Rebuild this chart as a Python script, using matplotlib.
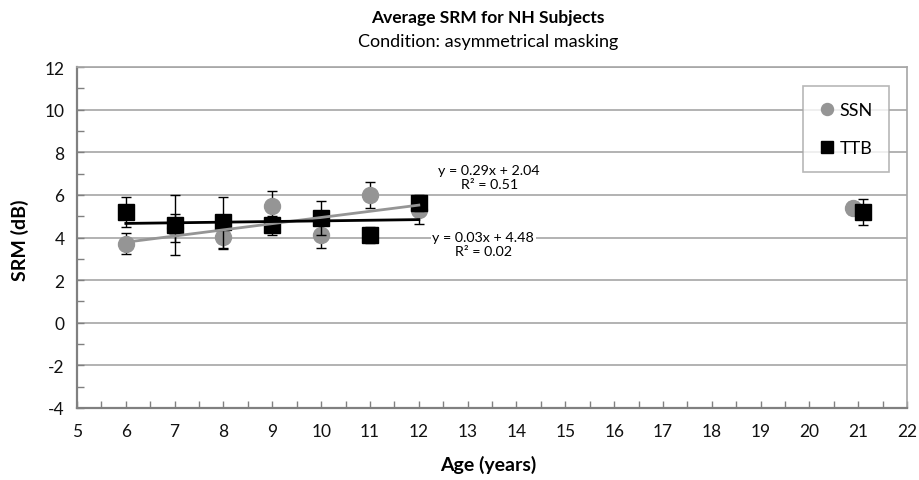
import numpy as np
import matplotlib.pyplot as plt
from matplotlib.ticker import MultipleLocator

plt.rcParams['font.family'] = ['Lato', 'DejaVu Sans']
plt.rcParams['axes.unicode_minus'] = False

# Mean SRM per age group (dB) with error bars
ssn_age = [6, 7, 8, 9, 10, 11, 12, 20.9]
ssn_srm = [3.71, 4.44, 4.02, 5.50, 4.13, 6.00, 5.27, 5.38]
ssn_err = [0.50, 0.65, 0.55, 0.70, 0.60, 0.60, 0.62, 0.30]

ttb_age = [6, 7, 8, 9, 10, 11, 12, 21.1]
ttb_srm = [5.20, 4.58, 4.72, 4.57, 4.90, 4.13, 5.63, 5.20]
ttb_err = [0.70, 1.40, 1.20, 0.45, 0.80, 0.37, 0.37, 0.60]

# Linear trendlines over the children (6-12 yrs)
fit_range = [6, 12]
ssn_fit = (0.29, 2.04, 0.51)   # slope, intercept, R^2
ttb_fit = (0.03, 4.48, 0.02)

fig = plt.figure(figsize=(9.2, 4.81), dpi=100)
ax = fig.add_axes([0.0837, 0.1497, 0.9023, 0.7089])

grid_c = '#a6a6a6'
ax.set_xlim(5, 22)
ax.set_ylim(-4, 12)
ax.yaxis.set_major_locator(MultipleLocator(2))
ax.yaxis.set_minor_locator(MultipleLocator(1))
ax.xaxis.set_major_locator(MultipleLocator(1))
ax.xaxis.set_minor_locator(MultipleLocator(0.5))
ax.grid(axis='y', which='major', color=grid_c, lw=1.2)
ax.set_axisbelow(True)
ax.tick_params(which='both', direction='in', color='#808080', labelsize=12.5,
               labelcolor='#111111')
ax.tick_params(which='major', length=5, width=1)
ax.tick_params(which='minor', length=5, width=1)
ax.tick_params(axis='x', pad=11)
ax.tick_params(axis='y', pad=9)
for s in ax.spines.values():
    s.set_color('#a6a6a6')
    s.set_linewidth(1.2)
ax.spines['left'].set_color('#808080')
ax.spines['bottom'].set_color('#808080')
ax.spines['left'].set_linewidth(1.6)
ax.spines['bottom'].set_linewidth(1.6)

ax.errorbar(ssn_age, ssn_srm, yerr=ssn_err, fmt='none', ecolor='black',
            elinewidth=1, capsize=3.5, capthick=1, zorder=3)
ax.plot(ssn_age, ssn_srm, 'o', color='#959595', ms=11.5, mec='#959595',
        zorder=4, label='SSN')
ax.errorbar(ttb_age, ttb_srm, yerr=ttb_err, fmt='none', ecolor='black',
            elinewidth=1, capsize=3.5, capthick=1, zorder=5)
ax.plot(ttb_age, ttb_srm, 's', color='black', ms=11, zorder=6, label='TTB')

xs = np.array(fit_range)
ax.plot(xs, ssn_fit[0] * xs + ssn_fit[1], color='#959595', lw=2, zorder=7)
ax.plot(xs, ttb_fit[0] * xs + ttb_fit[1], color='black', lw=2, zorder=7)

box = dict(facecolor='white', edgecolor='none', pad=1)
ax.text(13.44, 6.85, f"y = {ssn_fit[0]:.2f}x + {ssn_fit[1]:.2f}\nR² = {ssn_fit[2]:.2f}",
        ha='center', va='center', fontsize=10.3, linespacing=1.2, bbox=box, zorder=8)
ax.text(13.32, 3.70, f"y = {ttb_fit[0]:.2f}x + {ttb_fit[1]:.2f}\nR² = {ttb_fit[2]:.2f}",
        ha='center', va='center', fontsize=10.3, linespacing=1.2, bbox=box, zorder=8)

leg = ax.legend(loc='upper right', bbox_to_anchor=(0.9889, 0.971), fontsize=13,
                frameon=True, fancybox=False, edgecolor='#a6a6a6', handlelength=0.8,
                handletextpad=0.3, labelspacing=1.2, borderpad=0.9, markerscale=0.75)
leg.get_frame().set_linewidth(1.2)

fig.text(0.5305, 0.962, 'Average SRM for NH Subjects', ha='center', va='center',
         fontsize=12.5, fontweight='bold')
fig.text(0.5305, 0.913, 'Condition: asymmetrical masking', ha='center', va='center',
         fontsize=13)
fig.text(0.5305, 0.033, 'Age (years)', ha='center', va='center', fontsize=14,
         fontweight='bold')
fig.text(0.022, 0.5, 'SRM (dB)', ha='center', va='center', rotation=90, fontsize=14,
         fontweight='bold')

fig.savefig('out.png', dpi=100)
